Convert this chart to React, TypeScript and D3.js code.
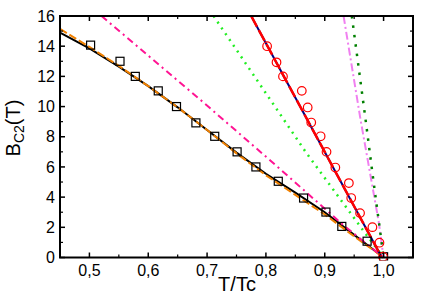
import React from "react";
import * as d3 from "d3";

const W = 436, H = 308;
const M = { left: 60, right: 23, top: 16, bottom: 50.5 };

const xTicks = [0.5, 0.6, 0.7, 0.8, 0.9, 1.0];
const xTickLabels = ["0,5", "0,6", "0,7", "0,8", "0,9", "1,0"];
const xMinor = [0.45, 0.55, 0.65, 0.75, 0.85, 0.95, 1.05];
const yTicks = [0, 2, 4, 6, 8, 10, 12, 14, 16];
const yMinor = [1, 3, 5, 7, 9, 11, 13, 15];

// experimental points
const sqT = [0.502, 0.552, 0.578, 0.617, 0.648, 0.681, 0.713, 0.751, 0.783, 0.821, 0.864, 0.902, 0.929, 0.972, 1.0];
const sqB = [14.07, 13.0, 12.0, 11.04, 10.0, 8.92, 8.03, 7.0, 6.0, 5.05, 3.94, 3.01, 2.06, 1.08, 0.05];
const ciT = [0.802, 0.818, 0.829, 0.861, 0.871, 0.877, 0.893, 0.903, 0.918, 0.941, 0.945, 0.96, 0.981, 0.993, 0.999];
const ciB = [14.0, 12.93, 12.0, 11.04, 9.94, 8.94, 8.03, 7.0, 5.96, 4.93, 3.94, 2.94, 2.01, 0.98, 0.05];

// fitted curves
const blackT = [0.45, 0.5, 0.55, 0.6, 0.65, 0.7, 0.75, 0.8, 0.85, 0.9, 0.95, 1.0];
const blackB = [14.9, 13.85, 12.65, 11.35, 9.95, 8.45, 6.95, 5.55, 4.3, 3.0, 1.5, 0];
const orangeT = [0.45, 0.5, 0.55, 0.6, 0.65, 0.7, 0.75, 0.8, 0.85, 0.9, 0.95, 1.0];
const orangeB = [15.15, 13.95, 12.7, 11.35, 9.95, 8.45, 6.9, 5.45, 4.15, 2.85, 1.4, 0];
const pinkT = [0.5206, 0.693, 0.803, 0.933, 1.0];
const pinkB = [16, 10.3, 6.58, 2.1, 0];
const limeT = [0.711, 0.868, 0.968, 1.0];
const limeB = [16, 6.97, 1.65, 0];
const navyT = [0.775, 0.997];
const navyB = [16, 0];
const violetT = [0.932, 0.961, 0.992, 1.0];
const violetB = [16, 9.1, 2.3, 0];
const dgreenT = [0.946, 0.97, 0.981, 1.0];
const dgreenB = [16, 8.95, 5.6, 0];

export default function App() {
  const x = d3.scaleLinear().domain([0.45, 1.05]).range([M.left, W - M.right]);
  const y = d3.scaleLinear().domain([0, 16]).range([H - M.bottom, M.top]);
  const line = (ts: number[], bs: number[]) =>
    d3.line<number>().x((_, i) => x(ts[i])).y((b) => y(b))(bs) as string;
  const x0 = M.left, x1 = W - M.right, y0 = H - M.bottom, y1 = M.top;
  const font = "'Liberation Sans', Arial, sans-serif";

  const curves = [
    { d: line(blackT, blackB), c: "#000000", w: 2, da: undefined },
    { d: line(orangeT, orangeB), c: "#f08000", w: 2, da: "8,3" },
    { d: line(pinkT, pinkB), c: "#ff1493", w: 2, da: "7,4,2,4" },
    { d: line(limeT, limeB), c: "#22ee22", w: 2.5, da: "2,5" },
    { d: line(navyT, navyB), c: "#000080", w: 2, da: undefined },
    { d: line(navyT, navyB), c: "#ff0000", w: 2.5, da: "12,4" },
    { d: line(violetT, violetB), c: "#f080f0", w: 2, da: "8,3,2,3" },
    { d: line(dgreenT, dgreenB), c: "#008000", w: 2.5, da: "2.5,7" },
  ];

  return (
    <svg width={W} height={H} style={{ position: "fixed", left: 0, top: 0, background: "#fff" }}>
      <defs>
        <clipPath id="plot">
          <rect x={x0} y={y1} width={x1 - x0} height={y0 - y1 + 3} />
        </clipPath>
      </defs>
      <g clipPath="url(#plot)">
        {curves.map((c, i) => (
          <path key={i} d={c.d} fill="none" stroke={c.c} strokeWidth={c.w} strokeDasharray={c.da} />
        ))}
        {sqT.map((t, i) => (
          <rect key={"s" + i} x={x(t) - 4} y={y(sqB[i]) - 4} width={8} height={8} fill="none" stroke="#000" strokeWidth={1.2} />
        ))}
        {ciT.map((t, i) => (
          <circle key={"c" + i} cx={x(t)} cy={y(ciB[i])} r={4.3} fill="none" stroke="#ff0000" strokeWidth={1.2} />
        ))}
      </g>
      {/* frame */}
      <rect x={x0} y={y1} width={x1 - x0} height={y0 - y1} fill="none" stroke="#000" strokeWidth={2} />
      {/* x ticks */}
      {xTicks.map((t) => (
        <g key={"xt" + t}>
          <line x1={x(t)} x2={x(t)} y1={y0} y2={y0 - 5} stroke="#000" strokeWidth={1.5} />
          <line x1={x(t)} x2={x(t)} y1={y1} y2={y1 + 5} stroke="#000" strokeWidth={1.5} />
        </g>
      ))}
      {xMinor.map((t) => (
        <g key={"xm" + t}>
          <line x1={x(t)} x2={x(t)} y1={y0} y2={y0 - 3} stroke="#000" strokeWidth={1.2} />
          <line x1={x(t)} x2={x(t)} y1={y1} y2={y1 + 3} stroke="#000" strokeWidth={1.2} />
        </g>
      ))}
      {yTicks.map((b) => (
        <g key={"yt" + b}>
          <line x1={x0} x2={x0 + 5} y1={y(b)} y2={y(b)} stroke="#000" strokeWidth={1.5} />
          <line x1={x1} x2={x1 - 5} y1={y(b)} y2={y(b)} stroke="#000" strokeWidth={1.5} />
        </g>
      ))}
      {yMinor.map((b) => (
        <g key={"ym" + b}>
          <line x1={x0} x2={x0 + 3} y1={y(b)} y2={y(b)} stroke="#000" strokeWidth={1.2} />
          <line x1={x1} x2={x1 - 3} y1={y(b)} y2={y(b)} stroke="#000" strokeWidth={1.2} />
        </g>
      ))}
      {xTicks.map((t, i) => (
        <text key={"xl" + t} x={x(t)} y={276} textAnchor="middle" fontFamily={font} fontSize={16} fill="#000">
          {xTickLabels[i]}
        </text>
      ))}
      {yTicks.map((b) => (
        <text key={"yl" + b} x={55} y={y(b) + 5.7} textAnchor="end" fontFamily={font} fontSize={16} fill="#000">
          {String(b)}
        </text>
      ))}
      <text x={237} y={291} textAnchor="middle" fontFamily={font} fontSize={20} fill="#000">T/Tc</text>
      <text transform="translate(20,128) rotate(-90)" textAnchor="middle" fontFamily={font} fontSize={20} fill="#000">
        B<tspan fontSize={14} dy={4}>C2</tspan><tspan dy={-4}>(T)</tspan>
      </text>
    </svg>
  );
}
